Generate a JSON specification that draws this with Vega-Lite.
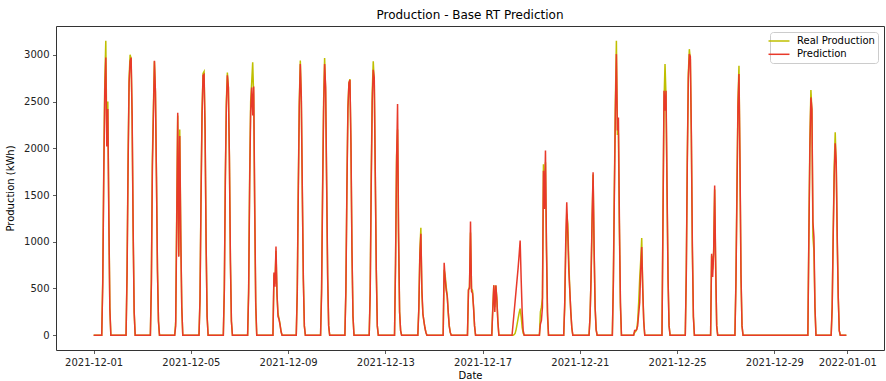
{
"$schema": "https://vega.github.io/schema/vega-lite/v6.json",
"width": 828, "height": 324,
"autosize": {"type": "none"},
"padding": {"left": 56, "top": 26, "right": 2, "bottom": 31},
"background": "white",
"title": {"text": "Production - Base RT Prediction", "fontSize": 12, "font": "DejaVu Sans", "fontWeight": "normal", "color": "#000", "offset": 4},
"data": {"values": [
{"t":"2021-12-01T00:00","r":0,"p":0},
{"t":"2021-12-01T08:00","r":0,"p":0},{"t":"2021-12-01T09:00","r":600,"p":550},{"t":"2021-12-01T10:00","r":1800,"p":1700},{"t":"2021-12-01T11:00","r":2700,"p":2600},{"t":"2021-12-01T12:00","r":3150,"p":2970},{"t":"2021-12-01T13:00","r":2100,"p":2020},{"t":"2021-12-01T14:00","r":2500,"p":2420},{"t":"2021-12-01T15:00","r":1300,"p":1250},{"t":"2021-12-01T16:00","r":300,"p":280},{"t":"2021-12-01T17:00","r":0,"p":0},
{"t":"2021-12-02T08:00","r":0,"p":0},{"t":"2021-12-02T09:00","r":700,"p":650},{"t":"2021-12-02T10:00","r":1900,"p":1800},{"t":"2021-12-02T11:00","r":2750,"p":2700},{"t":"2021-12-02T12:00","r":3000,"p":2930},{"t":"2021-12-02T13:00","r":2960,"p":2970},{"t":"2021-12-02T14:00","r":2300,"p":2350},{"t":"2021-12-02T15:00","r":1100,"p":1150},{"t":"2021-12-02T16:00","r":250,"p":250},{"t":"2021-12-02T17:00","r":0,"p":0},
{"t":"2021-12-03T08:00","r":0,"p":0},{"t":"2021-12-03T09:00","r":600,"p":550},{"t":"2021-12-03T10:00","r":1900,"p":1800},{"t":"2021-12-03T11:00","r":2450,"p":2350},{"t":"2021-12-03T12:00","r":2930,"p":2935},{"t":"2021-12-03T13:00","r":2600,"p":2600},{"t":"2021-12-03T14:00","r":1700,"p":1700},{"t":"2021-12-03T15:00","r":700,"p":700},{"t":"2021-12-03T16:00","r":150,"p":150},{"t":"2021-12-03T17:00","r":0,"p":0},
{"t":"2021-12-04T08:00","r":0,"p":0},{"t":"2021-12-04T09:00","r":150,"p":100},{"t":"2021-12-04T10:00","r":1300,"p":1200},{"t":"2021-12-04T11:00","r":2350,"p":2380},{"t":"2021-12-04T12:00","r":850,"p":840},{"t":"2021-12-04T13:00","r":2200,"p":2130},{"t":"2021-12-04T14:00","r":1100,"p":1050},{"t":"2021-12-04T15:00","r":300,"p":300},{"t":"2021-12-04T16:00","r":0,"p":0},
{"t":"2021-12-05T08:00","r":0,"p":0},{"t":"2021-12-05T09:00","r":400,"p":380},{"t":"2021-12-05T10:00","r":1500,"p":1450},{"t":"2021-12-05T11:00","r":2400,"p":2350},{"t":"2021-12-05T12:00","r":2800,"p":2780},{"t":"2021-12-05T13:00","r":2820,"p":2790},{"t":"2021-12-05T14:00","r":2200,"p":2200},{"t":"2021-12-05T15:00","r":1000,"p":1000},{"t":"2021-12-05T16:00","r":200,"p":200},{"t":"2021-12-05T17:00","r":0,"p":0},
{"t":"2021-12-06T08:00","r":0,"p":0},{"t":"2021-12-06T09:00","r":500,"p":480},{"t":"2021-12-06T10:00","r":1700,"p":1650},{"t":"2021-12-06T11:00","r":2500,"p":2450},{"t":"2021-12-06T12:00","r":2810,"p":2780},{"t":"2021-12-06T13:00","r":2650,"p":2650},{"t":"2021-12-06T14:00","r":1900,"p":1900},{"t":"2021-12-06T15:00","r":800,"p":800},{"t":"2021-12-06T16:00","r":150,"p":150},{"t":"2021-12-06T17:00","r":0,"p":0},
{"t":"2021-12-07T08:00","r":0,"p":0},{"t":"2021-12-07T09:00","r":500,"p":450},{"t":"2021-12-07T10:00","r":1700,"p":1600},{"t":"2021-12-07T11:00","r":2500,"p":2400},{"t":"2021-12-07T12:00","r":2700,"p":2650},{"t":"2021-12-07T13:00","r":2920,"p":2350},{"t":"2021-12-07T14:00","r":2550,"p":2660},{"t":"2021-12-07T15:00","r":1300,"p":1400},{"t":"2021-12-07T16:00","r":300,"p":350},{"t":"2021-12-07T17:00","r":0,"p":0},
{"t":"2021-12-08T09:00","r":0,"p":0},{"t":"2021-12-08T10:00","r":650,"p":670},{"t":"2021-12-08T11:00","r":550,"p":520},{"t":"2021-12-08T12:00","r":900,"p":950},{"t":"2021-12-08T13:00","r":420,"p":450},{"t":"2021-12-08T14:00","r":230,"p":200},{"t":"2021-12-08T15:00","r":180,"p":170},{"t":"2021-12-08T16:00","r":120,"p":110},{"t":"2021-12-08T17:00","r":40,"p":40},{"t":"2021-12-08T18:00","r":0,"p":0},
{"t":"2021-12-09T08:00","r":0,"p":0},{"t":"2021-12-09T09:00","r":500,"p":450},{"t":"2021-12-09T10:00","r":1600,"p":1500},{"t":"2021-12-09T11:00","r":2500,"p":2450},{"t":"2021-12-09T12:00","r":2940,"p":2900},{"t":"2021-12-09T13:00","r":2500,"p":2550},{"t":"2021-12-09T14:00","r":1500,"p":1550},{"t":"2021-12-09T15:00","r":600,"p":600},{"t":"2021-12-09T16:00","r":100,"p":100},{"t":"2021-12-09T17:00","r":0,"p":0},
{"t":"2021-12-10T08:00","r":0,"p":0},{"t":"2021-12-10T09:00","r":500,"p":450},{"t":"2021-12-10T10:00","r":1600,"p":1500},{"t":"2021-12-10T11:00","r":2500,"p":2400},{"t":"2021-12-10T12:00","r":2965,"p":2900},{"t":"2021-12-10T13:00","r":2600,"p":2650},{"t":"2021-12-10T14:00","r":1600,"p":1650},{"t":"2021-12-10T15:00","r":600,"p":650},{"t":"2021-12-10T16:00","r":100,"p":100},{"t":"2021-12-10T17:00","r":0,"p":0},
{"t":"2021-12-11T08:00","r":0,"p":0},{"t":"2021-12-11T09:00","r":500,"p":480},{"t":"2021-12-11T10:00","r":1600,"p":1550},{"t":"2021-12-11T11:00","r":2450,"p":2420},{"t":"2021-12-11T12:00","r":2700,"p":2700},{"t":"2021-12-11T13:00","r":2740,"p":2730},{"t":"2021-12-11T14:00","r":2000,"p":2050},{"t":"2021-12-11T15:00","r":900,"p":900},{"t":"2021-12-11T16:00","r":200,"p":200},{"t":"2021-12-11T17:00","r":0,"p":0},
{"t":"2021-12-12T08:00","r":0,"p":0},{"t":"2021-12-12T09:00","r":500,"p":450},{"t":"2021-12-12T10:00","r":1700,"p":1600},{"t":"2021-12-12T11:00","r":2600,"p":2500},{"t":"2021-12-12T12:00","r":2930,"p":2840},{"t":"2021-12-12T13:00","r":2700,"p":2750},{"t":"2021-12-12T14:00","r":1700,"p":1750},{"t":"2021-12-12T15:00","r":700,"p":700},{"t":"2021-12-12T16:00","r":100,"p":100},{"t":"2021-12-12T17:00","r":0,"p":0},
{"t":"2021-12-13T09:00","r":0,"p":0},{"t":"2021-12-13T10:00","r":770,"p":765},{"t":"2021-12-13T11:00","r":1920,"p":1815},{"t":"2021-12-13T12:00","r":2200,"p":2474},{"t":"2021-12-13T13:00","r":1000,"p":1100},{"t":"2021-12-13T14:00","r":250,"p":250},{"t":"2021-12-13T15:00","r":50,"p":50},{"t":"2021-12-13T16:00","r":0,"p":0},
{"t":"2021-12-14T08:00","r":0,"p":0},{"t":"2021-12-14T09:00","r":300,"p":280},{"t":"2021-12-14T10:00","r":900,"p":850},{"t":"2021-12-14T11:00","r":1150,"p":1086},{"t":"2021-12-14T12:00","r":450,"p":500},{"t":"2021-12-14T13:00","r":230,"p":230},{"t":"2021-12-14T14:00","r":150,"p":150},{"t":"2021-12-14T15:00","r":80,"p":80},{"t":"2021-12-14T16:00","r":30,"p":30},{"t":"2021-12-14T17:00","r":0,"p":0},
{"t":"2021-12-15T09:00","r":0,"p":0},{"t":"2021-12-15T10:00","r":700,"p":776},{"t":"2021-12-15T11:00","r":640,"p":600},{"t":"2021-12-15T12:00","r":520,"p":480},{"t":"2021-12-15T13:00","r":430,"p":420},{"t":"2021-12-15T14:00","r":250,"p":250},{"t":"2021-12-15T15:00","r":100,"p":100},{"t":"2021-12-15T16:00","r":30,"p":30},{"t":"2021-12-15T17:00","r":0,"p":0},
{"t":"2021-12-16T09:00","r":0,"p":0},{"t":"2021-12-16T10:00","r":480,"p":488},{"t":"2021-12-16T11:00","r":520,"p":500},{"t":"2021-12-16T12:00","r":1100,"p":1217},{"t":"2021-12-16T13:00","r":500,"p":470},{"t":"2021-12-16T14:00","r":480,"p":450},{"t":"2021-12-16T15:00","r":300,"p":300},{"t":"2021-12-16T16:00","r":100,"p":100},{"t":"2021-12-16T17:00","r":0,"p":0},
{"t":"2021-12-17T09:00","r":0,"p":0},{"t":"2021-12-17T10:00","r":300,"p":280},{"t":"2021-12-17T11:00","r":534,"p":534},{"t":"2021-12-17T12:00","r":300,"p":250},{"t":"2021-12-17T13:00","r":530,"p":534},{"t":"2021-12-17T14:00","r":400,"p":380},{"t":"2021-12-17T15:00","r":150,"p":150},{"t":"2021-12-17T16:00","r":0,"p":0},
{"t":"2021-12-18T05:00","r":0,"p":0},{"t":"2021-12-18T06:00","r":0,"p":120},{"t":"2021-12-18T07:00","r":5,"p":240},{"t":"2021-12-18T08:00","r":20,"p":360},{"t":"2021-12-18T09:00","r":60,"p":480},{"t":"2021-12-18T10:00","r":120,"p":600},{"t":"2021-12-18T11:00","r":180,"p":720},{"t":"2021-12-18T12:00","r":240,"p":860},{"t":"2021-12-18T13:00","r":285,"p":1014},{"t":"2021-12-18T14:00","r":200,"p":600},{"t":"2021-12-18T15:00","r":80,"p":250},{"t":"2021-12-18T16:00","r":20,"p":50},{"t":"2021-12-18T17:00","r":0,"p":0},
{"t":"2021-12-19T08:00","r":0,"p":0},{"t":"2021-12-19T09:00","r":250,"p":120},{"t":"2021-12-19T10:00","r":300,"p":160},{"t":"2021-12-19T11:00","r":400,"p":300},{"t":"2021-12-19T12:00","r":1830,"p":1760},{"t":"2021-12-19T13:00","r":1400,"p":1350},{"t":"2021-12-19T14:00","r":1850,"p":1975},{"t":"2021-12-19T15:00","r":900,"p":950},{"t":"2021-12-19T16:00","r":200,"p":250},{"t":"2021-12-19T17:00","r":0,"p":0},
{"t":"2021-12-20T08:00","r":0,"p":0},{"t":"2021-12-20T09:00","r":300,"p":350},{"t":"2021-12-20T10:00","r":900,"p":1000},{"t":"2021-12-20T11:00","r":1300,"p":1423},{"t":"2021-12-20T12:00","r":1190,"p":1100},{"t":"2021-12-20T13:00","r":800,"p":700},{"t":"2021-12-20T14:00","r":480,"p":480},{"t":"2021-12-20T15:00","r":250,"p":250},{"t":"2021-12-20T16:00","r":80,"p":80},{"t":"2021-12-20T17:00","r":0,"p":0},
{"t":"2021-12-21T09:00","r":0,"p":0},{"t":"2021-12-21T10:00","r":200,"p":200},{"t":"2021-12-21T11:00","r":600,"p":620},{"t":"2021-12-21T12:00","r":1200,"p":1250},{"t":"2021-12-21T13:00","r":1720,"p":1744},{"t":"2021-12-21T14:00","r":900,"p":950},{"t":"2021-12-21T15:00","r":300,"p":300},{"t":"2021-12-21T16:00","r":60,"p":60},{"t":"2021-12-21T17:00","r":0,"p":0},
{"t":"2021-12-22T08:00","r":0,"p":0},{"t":"2021-12-22T09:00","r":600,"p":550},{"t":"2021-12-22T10:00","r":1600,"p":1500},{"t":"2021-12-22T11:00","r":2500,"p":2400},{"t":"2021-12-22T12:00","r":3150,"p":3007},{"t":"2021-12-22T13:00","r":2150,"p":2190},{"t":"2021-12-22T14:00","r":2150,"p":2330},{"t":"2021-12-22T15:00","r":1100,"p":1200},{"t":"2021-12-22T16:00","r":300,"p":350},{"t":"2021-12-22T17:00","r":0,"p":0},
{"t":"2021-12-23T05:00","r":0,"p":0},{"t":"2021-12-23T06:00","r":30,"p":50},{"t":"2021-12-23T07:00","r":40,"p":50},{"t":"2021-12-23T08:00","r":60,"p":60},{"t":"2021-12-23T09:00","r":150,"p":100},{"t":"2021-12-23T10:00","r":350,"p":230},{"t":"2021-12-23T11:00","r":605,"p":350},{"t":"2021-12-23T12:00","r":800,"p":700},{"t":"2021-12-23T13:00","r":1039,"p":943},{"t":"2021-12-23T14:00","r":500,"p":500},{"t":"2021-12-23T15:00","r":150,"p":150},{"t":"2021-12-23T16:00","r":0,"p":0},
{"t":"2021-12-24T09:00","r":0,"p":0},{"t":"2021-12-24T10:00","r":1300,"p":1250},{"t":"2021-12-24T11:00","r":2500,"p":2616},{"t":"2021-12-24T12:00","r":2900,"p":2402},{"t":"2021-12-24T13:00","r":2550,"p":2616},{"t":"2021-12-24T14:00","r":1500,"p":1600},{"t":"2021-12-24T15:00","r":600,"p":600},{"t":"2021-12-24T16:00","r":100,"p":100},{"t":"2021-12-24T17:00","r":0,"p":0},
{"t":"2021-12-25T08:00","r":0,"p":0},{"t":"2021-12-25T09:00","r":700,"p":650},{"t":"2021-12-25T10:00","r":1900,"p":1850},{"t":"2021-12-25T11:00","r":2800,"p":2750},{"t":"2021-12-25T12:00","r":3060,"p":3007},{"t":"2021-12-25T13:00","r":2950,"p":2980},{"t":"2021-12-25T14:00","r":2100,"p":2150},{"t":"2021-12-25T15:00","r":900,"p":950},{"t":"2021-12-25T16:00","r":200,"p":200},{"t":"2021-12-25T17:00","r":0,"p":0},
{"t":"2021-12-26T09:00","r":0,"p":0},{"t":"2021-12-26T10:00","r":850,"p":872},{"t":"2021-12-26T11:00","r":700,"p":623},{"t":"2021-12-26T12:00","r":900,"p":870},{"t":"2021-12-26T13:00","r":1560,"p":1601},{"t":"2021-12-26T14:00","r":700,"p":750},{"t":"2021-12-26T15:00","r":100,"p":100},{"t":"2021-12-26T16:00","r":0,"p":0},
{"t":"2021-12-27T09:00","r":0,"p":0},{"t":"2021-12-27T10:00","r":600,"p":550},{"t":"2021-12-27T11:00","r":1600,"p":1500},{"t":"2021-12-27T12:00","r":2500,"p":2450},{"t":"2021-12-27T13:00","r":2882,"p":2794},{"t":"2021-12-27T14:00","r":1800,"p":1850},{"t":"2021-12-27T15:00","r":600,"p":650},{"t":"2021-12-27T16:00","r":100,"p":100},{"t":"2021-12-27T17:00","r":0,"p":0},
{"t":"2021-12-30T09:00","r":0,"p":0},{"t":"2021-12-30T10:00","r":1100,"p":1050},{"t":"2021-12-30T11:00","r":2100,"p":2000},{"t":"2021-12-30T12:00","r":2623,"p":2544},{"t":"2021-12-30T13:00","r":2400,"p":2420},{"t":"2021-12-30T14:00","r":1050,"p":1210},{"t":"2021-12-30T15:00","r":900,"p":1050},{"t":"2021-12-30T16:00","r":300,"p":300},{"t":"2021-12-30T17:00","r":0,"p":0},
{"t":"2021-12-31T08:00","r":0,"p":0},{"t":"2021-12-31T09:00","r":300,"p":300},{"t":"2021-12-31T10:00","r":1100,"p":1050},{"t":"2021-12-31T11:00","r":1800,"p":1700},{"t":"2021-12-31T12:00","r":2171,"p":2053},{"t":"2021-12-31T13:00","r":1800,"p":1850},{"t":"2021-12-31T14:00","r":1000,"p":1050},{"t":"2021-12-31T15:00","r":400,"p":400},{"t":"2021-12-31T16:00","r":50,"p":50},{"t":"2021-12-31T17:00","r":0,"p":0},
{"t":"2021-12-31T23:00","r":0,"p":0}
]},
"encoding": {
  "x": {"field": "t", "type": "temporal",
    "scale": {"domain": [{"year": 2021, "month": 11, "date": 29, "hours": 10, "minutes": 51}, {"year": 2022, "month": 1, "date": 2, "hours": 12, "minutes": 9}], "nice": false},
    "axis": {"title": "Date", "format": "%Y-%m-%d", "formatType": "time",
      "values": [{"year": 2021, "month": 12, "date": 1}, {"year": 2021, "month": 12, "date": 5}, {"year": 2021, "month": 12, "date": 9}, {"year": 2021, "month": 12, "date": 13}, {"year": 2021, "month": 12, "date": 17}, {"year": 2021, "month": 12, "date": 21}, {"year": 2021, "month": 12, "date": 25}, {"year": 2021, "month": 12, "date": 29}, {"year": 2022, "month": 1, "date": 1}],
      "labelOverlap": false, "labelFlush": false, "titlePadding": 3}}
},
"layer": [
  {"mark": {"type": "line", "strokeWidth": 1.5},
   "encoding": {
     "y": {"field": "r", "type": "quantitative", "title": "Production (kWh)",
       "scale": {"domain": [-158, 3308], "nice": false, "zero": false},
       "axis": {"values": [0, 500, 1000, 1500, 2000, 2500, 3000], "format": "d", "titlePadding": 8}},
     "color": {"datum": "Real Production",
       "scale": {"domain": ["Real Production", "Prediction"], "range": ["#bfbf00", "#e8392a"]},
       "legend": {"orient": "none", "direction": "vertical", "legendX": 714, "legendY": 6, "title": null,
         "symbolType": "M-2,0H2", "symbolSize": 110, "symbolStrokeWidth": 1.5, "labelOffset": 12,
         "labelFontSize": 10, "labelFont": "DejaVu Sans", "labelColor": "#000", "padding": 3, "rowPadding": 2.3,
         "fillColor": "white", "strokeColor": "#cccccc", "cornerRadius": 3}}
   }},
  {"mark": {"type": "line", "strokeWidth": 1.5},
   "encoding": {
     "y": {"field": "p", "type": "quantitative", "title": "Production (kWh)"},
     "color": {"datum": "Prediction"}
   }}
],
"config": {
  "view": {"stroke": "#333", "strokeWidth": 1},
  "axis": {"grid": false, "domain": false, "tickSize": 3.5, "tickColor": "#333", "tickWidth": 0.8,
    "labelPadding": 3.5, "labelFontSize": 10, "labelFont": "DejaVu Sans", "labelColor": "#222",
    "titleFontSize": 10, "titleFont": "DejaVu Sans", "titleFontWeight": "normal", "titleColor": "#000"},
  "font": "DejaVu Sans"
}
}
